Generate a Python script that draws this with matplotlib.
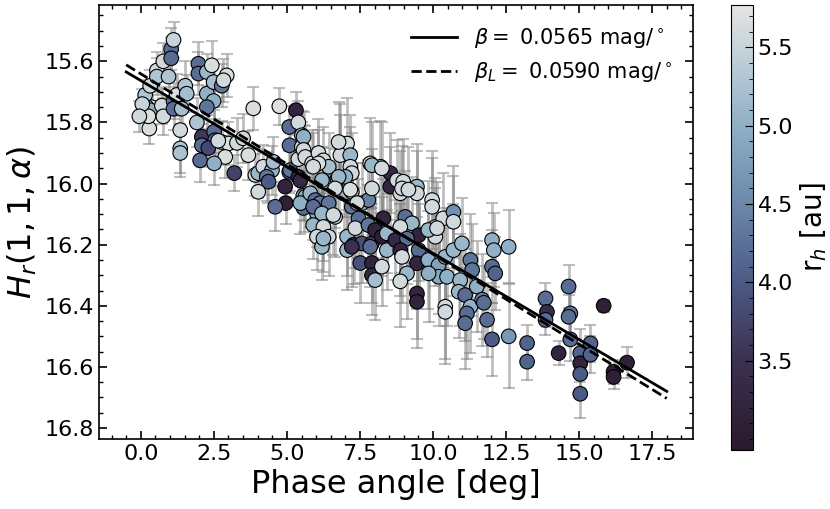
import numpy as np
import matplotlib
matplotlib.use("Agg")
import matplotlib.pyplot as plt
from matplotlib.colors import LinearSegmentedColormap, Normalize
from matplotlib.ticker import MultipleLocator

# phase angle [deg], reduced mag H_r(1,1,alpha), its error, heliocentric distance r_h [au]
phase = [
    0.29, 0.38, 0.20, 0.15, 0.32, 0.32, 0.55, 0.55, 0.77, 1.04,
    1.04, 1.12, 0.95, 0.72, 0.77, 0.26, 1.12, 1.12, 1.23, 1.40,
    1.52, 1.57, 1.35, 1.35, 1.35, 1.92, 0.05, -0.05, 1.97, 1.97,
    2.26, 2.43, 2.26, 2.49, 2.49, 2.26, 2.77, 2.94, 2.83, 2.09,
    2.09, 2.03, 2.51, 2.54, 2.31, 2.77, 3.00, 3.29, 3.50, 2.89,
    2.51, 3.20, 3.68, 2.65, 3.85, 4.74, 5.31, 5.08, 5.39, 5.51,
    5.09, 5.51, 5.08, 3.92, 4.02, 4.19, 4.49, 4.31, 4.37, 4.02,
    4.54, 4.94, 4.96, 4.60, 5.11, 5.39, 5.56, 5.46, 5.39, 5.57,
    5.57, 5.63, 5.57, 5.63, 5.46, 5.86, 6.08, 6.25, 6.43, 6.83,
    7.06, 6.83, 7.17, 7.17, 7.22, 7.00, 6.71, 6.25, 5.80, 5.97,
    6.14, 6.43, 6.03, 6.25, 6.65, 6.94, 7.22, 7.22, 6.08, 5.90,
    6.77, 6.20, 6.77, 6.65, 7.17, 5.90, 6.20, 6.59, 5.90, 6.25,
    6.43, 6.03, 6.20, 7.06, 7.06, 6.25, 7.57, 7.79, 7.40, 7.45,
    7.34, 7.79, 7.28, 7.57, 7.91, 8.02, 8.25, 8.30, 8.42, 7.51,
    7.91, 7.91, 8.25, 8.02, 7.85, 8.20, 8.54, 8.54, 8.77, 7.91,
    7.91, 8.25, 8.42, 8.71, 7.85, 7.22, 8.98, 8.88, 9.45, 9.45,
    8.94, 9.16, 9.05, 9.28, 8.88, 9.51, 9.11, 8.88, 8.94, 9.51,
    9.45, 9.11, 8.88, 9.45, 9.45, 9.97, 9.97, 10.08, 10.08, 9.84,
    10.35, 10.70, 10.70, 9.84, 10.19, 10.19, 9.85, 10.48, 10.42, 10.70,
    10.99, 10.14, 11.28, 11.34, 10.93, 10.88, 11.10, 11.28, 11.16, 11.10,
    10.42, 10.42, 11.50, 11.68, 11.85, 12.02, 12.02, 12.02, 12.08, 12.59,
    12.13, 12.59, 11.74, 13.22, 13.22, 13.85, 13.90, 13.85, 14.64, 14.70,
    14.64, 14.70, 14.30, 15.04, 15.04, 15.04, 15.04, 15.39, 15.39, 15.84,
    16.18, 16.18, 16.64,
]
hmag = [
    15.82, 15.75, 15.75, 15.71, 15.76, 15.68, 15.63, 15.65, 15.60, 15.56,
    15.59, 15.53, 15.65, 15.745, 15.78, 15.78, 15.73, 15.755, 15.71, 15.755,
    15.68, 15.706, 15.825, 15.885, 15.90, 15.80, 15.74, 15.78, 15.608, 15.64,
    15.635, 15.613, 15.706, 15.668, 15.73, 15.75, 15.68, 15.646, 15.662, 15.847,
    15.875, 15.924, 15.83, 15.858, 15.884, 15.864, 15.869, 15.867, 15.852, 15.913,
    15.934, 15.966, 15.907, 15.86, 15.754, 15.747, 15.76, 15.815, 15.80, 15.842,
    15.875, 15.88, 15.962, 15.972, 15.966, 15.945, 15.956, 15.978, 15.994, 16.027,
    15.929, 16.01, 16.064, 16.076, 15.956, 15.978, 16.04, 15.99, 15.92, 15.847,
    15.89, 15.913, 16.08, 16.043, 16.064, 15.934, 15.90, 15.924, 15.945, 15.869,
    15.869, 15.907, 15.907, 15.945, 15.966, 15.978, 15.989, 15.994, 16.032, 16.054,
    16.064, 16.064, 16.098, 16.114, 16.109, 16.032, 16.027, 16.076, 15.934, 15.945,
    15.864, 15.989, 15.978, 16.016, 16.02, 16.076, 16.098, 16.103, 16.136, 16.142,
    16.174, 16.174, 16.207, 16.174, 16.218, 16.18, 16.064, 16.054, 16.064, 16.114,
    16.146, 16.136, 16.20, 16.196, 16.196, 16.152, 16.174, 16.114, 16.218, 16.26,
    16.26, 16.30, 16.272, 16.316, 15.934, 15.945, 15.966, 16.01, 15.989, 16.016,
    15.94, 15.95, 16.163, 16.185, 16.207, 16.207, 15.994, 16.032, 16.01, 16.032,
    16.016, 16.02, 16.109, 16.13, 16.142, 16.169, 16.18, 16.218, 16.24, 16.218,
    16.261, 16.294, 16.32, 16.36, 16.387, 16.054, 16.076, 16.142, 16.174, 16.152,
    16.114, 16.093, 16.125, 16.25, 16.267, 16.305, 16.294, 16.305, 16.24, 16.218,
    16.196, 16.146, 16.25, 16.283, 16.316, 16.354, 16.365, 16.403, 16.425, 16.457,
    16.403, 16.42, 16.337, 16.38, 16.446, 16.185, 16.272, 16.51, 16.218, 16.207,
    16.294, 16.50, 16.39, 16.522, 16.583, 16.376, 16.42, 16.446, 16.337, 16.425,
    16.436, 16.51, 16.555, 16.555, 16.588, 16.623, 16.688, 16.523, 16.56, 16.40,
    16.616, 16.633, 16.586,
]
herr = [
    .05, .06, .05, .05, .06, .05, .06, .06, .06, .07,
    .07, .06, .07, .06, .06, .05, .06, .07, .07, .07,
    .08, .06, .06, .08, .08, .08, .05, .05, .07, .07,
    .06, .08, .07, .06, .07, .07, .07, .07, .07, .06,
    .07, .07, .07, .07, .06, .07, .07, .08, .08, .07,
    .07, .06, .08, .06, .07, .06, .06, .07, .07, .08,
    .07, .08, .07, .07, .08, .07, .08, .08, .07, .08,
    .08, .07, .07, .08, .07, .08, .08, .07, .08, .08,
    .08, .10, .08, .08, .10, .11, .11, .11, .11, .13,
    .15, .13, .13, .13, .13, .13, .11, .11, .11, .11,
    .11, .13, .11, .11, .13, .13, .13, .13, .11, .11,
    .13, .11, .13, .13, .13, .11, .11, .13, .11, .11,
    .13, .11, .11, .13, .13, .11, .13, .13, .13, .13,
    .13, .13, .13, .13, .13, .13, .13, .13, .13, .13,
    .13, .13, .13, .13, .15, .15, .13, .13, .13, .13,
    .14, .15, .13, .13, .13, .13, .14, .14, .14, .14,
    .14, .14, .15, .15, .15, .15, .15, .15, .15, .15,
    .15, .15, .15, .15, .15, .16, .16, .16, .16, .16,
    .15, .15, .15, .16, .16, .16, .16, .16, .16, .15,
    .15, .15, .15, .15, .15, .15, .15, .15, .15, .15,
    .17, .17, .15, .15, .12, .12, .12, .12, .12, .12,
    .12, .17, .12, .06, .06, .05, .05, .05, .07, .07,
    .07, .07, .04, .08, .06, .07, .08, .06, .06, .02,
    .04, .04, .05,
]
rh = [
    5.65, 5.6, 5.65, 5.3, 5.0, 5.6, 5.6, 5.3, 5.6, 4.2,
    4.2, 5.5, 5.3, 5.6, 5.6, 5.7, 4.3, 4.2, 5.65, 5.2,
    5.3, 5.2, 5.6, 5.3, 5.25, 5.3, 5.5, 5.6, 4.2, 4.2,
    5.1, 5.65, 5.0, 5.2, 5.0, 4.3, 4.3, 5.65, 5.6, 3.6,
    4.2, 4.2, 4.2, 4.1, 3.8, 5.6, 5.65, 5.6, 5.6, 5.65,
    5.0, 3.7, 5.65, 5.6, 5.65, 5.7, 3.2, 4.2, 5.6, 5.2,
    4.2, 5.6, 4.2, 5.6, 5.1, 5.6, 5.0, 4.3, 4.0, 5.6,
    5.2, 3.2, 3.1, 4.2, 4.3, 3.2, 5.0, 3.3, 5.6, 5.0,
    5.6, 5.6, 4.2, 5.0, 5.0, 5.6, 5.65, 5.6, 5.2, 5.6,
    5.65, 5.6, 5.1, 5.6, 5.6, 5.0, 5.1, 5.6, 5.1, 4.2,
    4.3, 4.3, 5.0, 5.6, 5.6, 5.1, 5.6, 4.3, 5.65, 5.6,
    5.6, 5.1, 5.1, 5.6, 5.65, 4.2, 5.1, 5.6, 5.1, 5.6,
    5.6, 5.6, 5.1, 5.1, 5.1, 5.1, 5.0, 4.4, 5.6, 4.2,
    5.6, 4.3, 3.3, 3.9, 3.6, 3.2, 3.1, 3.2, 5.1, 3.9,
    3.2, 3.3, 5.6, 5.2, 5.6, 5.1, 3.3, 3.2, 5.6, 5.6,
    5.1, 5.6, 5.1, 3.3, 4.2, 3.5, 5.6, 5.6, 5.1, 5.6,
    5.6, 5.6, 4.2, 5.1, 5.6, 3.2, 4.2, 3.2, 5.6, 4.2,
    3.2, 5.1, 5.6, 3.2, 3.2, 5.6, 5.6, 5.6, 5.6, 5.1,
    5.6, 4.6, 5.6, 5.0, 4.8, 4.9, 5.0, 5.0, 5.1, 5.1,
    5.1, 5.6, 4.3, 4.3, 5.1, 5.1, 4.2, 5.0, 4.2, 4.2,
    5.6, 5.6, 5.0, 4.4, 4.2, 5.0, 4.2, 4.0, 5.0, 5.0,
    4.1, 4.7, 4.2, 4.1, 4.1, 4.2, 3.4, 4.2, 4.2, 4.3,
    4.2, 4.2, 3.2, 4.1, 3.2, 4.0, 4.0, 4.1, 4.1, 3.1,
    3.1, 3.1, 3.1,
]

# linear phase fits: slope [mag/deg], intercept at alpha=0
beta, h0 = 0.0565, 15.663
beta_l, h0_l = 0.0590, 15.641
fit_range = [-0.5, 18.0]
rh_lims = (2.93, 5.77)

# dark purple -> slate blue -> pale grey, sampled off the original colourbar
cmap = LinearSegmentedColormap.from_list("rh", [
    (0.00, "#2b1a2d"), (0.20, "#3b3050"), (0.377, "#4c5a86"),
    (0.553, "#6b88a9"), (0.729, "#8fb0c6"), (0.905, "#c6d3da"),
    (1.00, "#e4e4e1")])
norm = Normalize(*rh_lims)

fig = plt.figure(figsize=(8.3, 5.09), dpi=100)
ax = fig.add_axes([0.1193, 0.1375, 0.7157, 0.8525])
cax = fig.add_axes([0.8807, 0.116, 0.0261, 0.874])

ax.errorbar(phase, hmag, yerr=herr, fmt="none", ecolor="gray", alpha=0.5,
            elinewidth=2, capsize=4, capthick=1.5, zorder=1)
sc = ax.scatter(phase, hmag, c=rh, cmap=cmap, norm=norm, s=110,
                edgecolors="black", linewidths=0.8, zorder=2)

xf = np.linspace(*fit_range, 50)
ax.plot(xf, h0 + beta * xf, color="black", lw=2, zorder=3,
        label=r"$\beta = $ 0.0565 mag/$^\circ$")
ax.plot(xf, h0_l + beta_l * xf, color="black", lw=2, ls="--", zorder=3,
        label=r"$\beta_L = $ 0.0590 mag/$^\circ$")

ax.set_xlim(-1.43, 18.9)
ax.set_ylim(16.836, 15.416)
ax.xaxis.set_major_locator(MultipleLocator(2.5))
ax.xaxis.set_minor_locator(MultipleLocator(0.5))
ax.yaxis.set_major_locator(MultipleLocator(0.2))
ax.yaxis.set_minor_locator(MultipleLocator(0.05))
ax.tick_params(which="both", direction="in", top=True, right=True, labelsize=16)
ax.tick_params(which="major", length=6, width=1.2)
ax.tick_params(which="minor", length=3, width=1)
for sp in ax.spines.values():
    sp.set_linewidth(1.2)
ax.set_xlabel("Phase angle [deg]", fontsize=23)
ax.set_ylabel(r"$H_r(1, 1, \alpha)$", fontsize=23)
ax.legend(loc="upper right", frameon=False, fontsize=15, handlelength=2.2,
          borderaxespad=0.6)

cb = fig.colorbar(sc, cax=cax)
cb.set_ticks([3.5, 4.0, 4.5, 5.0, 5.5])
cb.ax.yaxis.set_minor_locator(MultipleLocator(0.1))
cb.ax.tick_params(which="both", direction="in", labelsize=16)
cb.ax.tick_params(which="major", length=6)
cb.ax.tick_params(which="minor", length=3)
cb.set_label(r"r$_h$ [au]", fontsize=20)

fig.savefig("out.png", dpi=100)
